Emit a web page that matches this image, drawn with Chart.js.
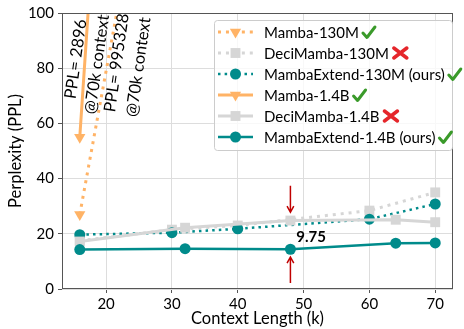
<!DOCTYPE html>
<html>
<head>
<meta charset="utf-8">
<script src="https://cdn.jsdelivr.net/npm/chart.js@4.4.1/dist/chart.umd.min.js"></script>
<style>
  html, body { margin: 0; padding: 0; background: #fff; }
  #wrap { width: 464px; height: 329px; }
</style>
</head>
<body>
<div id="wrap"><canvas id="ppl-chart" width="464" height="329"></canvas></div>
<script>
// context lengths (k) used by each model size
const x130m = [16, 30, 40, 60, 70];
const x14b = [16, 32, 48, 64, 70];
// Mamba baselines blow up; only the first segment is inside the plot
const xMamba130m = [16, 30, 70];
const mamba130m = [27, 209, 995328];
const xMamba14b = [16, 32, 70];
const mamba14b = [55, 626, 2896];

const deci130m = [17.5, 21.5, 23, 28.4, 35];
const extend130m = [19.7, 20.4, 21.8, 25.3, 30.8];
const deci14b = [17.2, 22.2, 24.8, 25.1, 24.2];
const extend14b = [14.3, 14.6, 14.4, 16.6, 16.7];

const xTicks = [20, 30, 40, 50, 60, 70];
const yTicks = [0, 20, 40, 60, 80, 100];

const labels = ['Mamba-130M', 'DeciMamba-130M', 'MambaExtend-130M (ours)',
                'Mamba-1.4B', 'DeciMamba-1.4B', 'MambaExtend-1.4B (ours)'];
const marks = ['check', 'cross', 'check', 'check', 'cross', 'check'];

const ORANGE = '#ffb366';
const GRAY = '#d6d6d6';
const TEAL = '#008b8b';
const FONT = 'Lato';

function series(xs, ys) {
    return xs.map((x, i) => ({ x: x, y: ys[i] }));
}

function ds(label, data, color, dotted, shape, radius, width) {
    return {
        label: label,
        data: data,
        borderColor: color,
        backgroundColor: color,
        borderWidth: width,
        borderDash: dotted ? [width, width * 1.65] : [],
        borderCapStyle: 'butt',
        pointStyle: shape,
        pointRotation: shape === 'triangle' ? 180 : 0,
        pointRadius: radius,
        pointBorderWidth: 0,
        pointBackgroundColor: color,
        tension: 0,
        fill: false,
    };
}

const datasets = [
    ds(labels[0], series(xMamba130m, mamba130m), ORANGE, true, 'triangle', 6.5, 3),
    ds(labels[1], series(x130m, deci130m), GRAY, true, 'rect', 7, 3),
    ds(labels[2], series(x130m, extend130m), TEAL, true, 'circle', 5.5, 2.5),
    ds(labels[3], series(xMamba14b, mamba14b), ORANGE, false, 'triangle', 6.5, 3),
    ds(labels[4], series(x14b, deci14b), GRAY, false, 'rect', 7, 3),
    ds(labels[5], series(x14b, extend14b), TEAL, false, 'circle', 5.5, 2.5),
];
// matplotlib draws later series on top
datasets.forEach((d, i) => { d.order = datasets.length - i; });

function drawMarker(ctx, shape, x, y, r, color) {
    ctx.save();
    ctx.fillStyle = color;
    ctx.beginPath();
    if (shape === 'circle') {
        ctx.arc(x, y, r, 0, Math.PI * 2);
    } else if (shape === 'rect') {
        const s = r * Math.SQRT1_2;
        ctx.rect(x - s, y - s, 2 * s, 2 * s);
    } else {
        ctx.moveTo(x - r * 0.866, y - r * 0.5);
        ctx.lineTo(x + r * 0.866, y - r * 0.5);
        ctx.lineTo(x, y + r);
        ctx.closePath();
    }
    ctx.fill();
    ctx.restore();
}

function drawCheck(ctx, x, y) {
    ctx.save();
    ctx.strokeStyle = '#3a9a2a';
    ctx.lineWidth = 3;
    ctx.lineCap = 'round';
    ctx.lineJoin = 'round';
    ctx.beginPath();
    ctx.moveTo(x, y);
    ctx.lineTo(x + 4, y + 4.5);
    ctx.lineTo(x + 12, y - 6);
    ctx.stroke();
    ctx.restore();
}

function drawCross(ctx, x, y) {
    ctx.save();
    ctx.strokeStyle = '#e5262b';
    ctx.lineWidth = 3.5;
    ctx.lineCap = 'round';
    ctx.beginPath();
    ctx.moveTo(x + 1, y - 5);
    ctx.lineTo(x + 14, y + 5);
    ctx.moveTo(x + 14, y - 5);
    ctx.lineTo(x + 1, y + 5);
    ctx.stroke();
    ctx.restore();
}

function arrow(ctx, x0, y0, x1, y1) {
    const ang = Math.atan2(y1 - y0, x1 - x0);
    const hl = 7, spread = 0.5;
    ctx.beginPath();
    ctx.moveTo(x0, y0);
    ctx.lineTo(x1, y1);
    ctx.moveTo(x1 - hl * Math.cos(ang - spread), y1 - hl * Math.sin(ang - spread));
    ctx.lineTo(x1, y1);
    ctx.lineTo(x1 - hl * Math.cos(ang + spread), y1 - hl * Math.sin(ang + spread));
    ctx.stroke();
}

// rotated notes next to the exploding baselines, in data coordinates
const notes = [
    { text: 'PPL= 2896', x: 15.4, y: 83.3 },
    { text: '@70k context', x: 18.6, y: 81.4 },
    { text: 'PPL= 995328', x: 21.6, y: 82.0 },
    { text: '@70k context', x: 24.9, y: 80.4 },
];

const extras = {
    id: 'extras',
    afterDatasetsDraw(chart) {
        const { ctx, scales: { x, y } } = chart;
        ctx.save();
        ctx.fillStyle = '#000';
        ctx.font = `16.5px ${FONT}`;
        ctx.textAlign = 'center';
        ctx.textBaseline = 'middle';
        notes.forEach(n => {
            ctx.save();
            ctx.translate(x.getPixelForValue(n.x), y.getPixelForValue(n.y));
            ctx.rotate(-82 * Math.PI / 180);
            ctx.fillText(n.text, 0, 0);
            ctx.restore();
        });

        // highlight MambaExtend-1.4B at 48k
        const ax = x.getPixelForValue(48);
        ctx.strokeStyle = '#c00000';
        ctx.lineWidth = 1.5;
        arrow(ctx, ax, y.getPixelForValue(37.4), ax, y.getPixelForValue(27.8));
        arrow(ctx, ax, y.getPixelForValue(2.2), ax, y.getPixelForValue(11.6));
        ctx.font = `bold 15px ${FONT}`;
        ctx.textAlign = 'left';
        ctx.fillText('9.75', x.getPixelForValue(48.9), y.getPixelForValue(18.7));
        ctx.restore();
    },
    afterDraw(chart) {
        const { ctx, chartArea: a } = chart;
        ctx.save();
        // full box spine
        ctx.strokeStyle = '#555';
        ctx.lineWidth = 1;
        ctx.strokeRect(a.left + 0.5, a.top + 0.5, a.right - a.left - 1, a.bottom - a.top - 1);

        // legend
        const lx = a.left + 152, ly = a.top + 7, lw = 238, lh = 130, rowH = 21;
        ctx.fillStyle = 'rgba(255,255,255,0.8)';
        ctx.strokeStyle = '#cccccc';
        ctx.beginPath();
        ctx.roundRect(lx + 0.5, ly + 0.5, lw, lh, 3);
        ctx.fill();
        ctx.stroke();

        ctx.font = `15px ${FONT}`;
        ctx.textBaseline = 'middle';
        ctx.textAlign = 'left';
        chart.data.datasets.forEach((d, i) => {
            const cy = ly + 12 + i * rowH;
            const hx0 = lx + 4, hx1 = lx + 39;
            ctx.save();
            ctx.strokeStyle = d.borderColor;
            ctx.lineWidth = d.borderWidth;
            ctx.setLineDash(d.borderDash);
            ctx.beginPath();
            ctx.moveTo(hx0, cy);
            ctx.lineTo(hx1, cy);
            ctx.stroke();
            ctx.restore();
            drawMarker(ctx, d.pointStyle, (hx0 + hx1) / 2, cy, d.pointRadius, d.borderColor);
            ctx.fillStyle = '#000';
            const tx = lx + 50;
            ctx.fillText(d.label, tx, cy + 1);
            const end = tx + ctx.measureText(d.label).width + 4;
            if (marks[i] === 'check') drawCheck(ctx, end, cy + 1);
            else drawCross(ctx, end, cy);
        });
        ctx.restore();
    }
};

new Chart(document.getElementById('ppl-chart'), {
    type: 'line',
    data: { datasets: datasets },
    options: {
        responsive: false,
        animation: false,
        devicePixelRatio: 1,
        layout: { padding: { left: 0, right: 11, top: 11, bottom: 0 } },
        plugins: { legend: { display: false }, tooltip: { enabled: false } },
        scales: {
            x: {
                type: 'linear',
                min: 13.3,
                max: 72.7,
                afterBuildTicks: s => { s.ticks = xTicks.map(v => ({ value: v })); },
                afterFit: s => { s.height = 40; },
                grid: { color: '#dddddd', tickColor: '#555', tickLength: 4 },
                border: { display: false },
                ticks: { color: '#000', font: { family: FONT, size: 15 }, padding: 2, maxRotation: 0 },
                title: { display: true, text: 'Context Length (k)', color: '#000',
                         font: { family: FONT, size: 16.5 }, padding: 0 },
            },
            y: {
                min: 0,
                max: 100,
                afterBuildTicks: s => { s.ticks = yTicks.map(v => ({ value: v })); },
                afterFit: s => { s.width = 62; },
                grid: { color: '#dddddd', tickColor: '#555', tickLength: 4 },
                border: { display: false },
                ticks: { color: '#000', font: { family: FONT, size: 15 }, padding: 4 },
                title: { display: true, text: 'Perplexity (PPL)', color: '#000',
                         font: { family: FONT, size: 16.5 }, padding: { top: 6, bottom: 0 } },
            }
        }
    },
    plugins: [extras]
});
</script>
</body>
</html>
